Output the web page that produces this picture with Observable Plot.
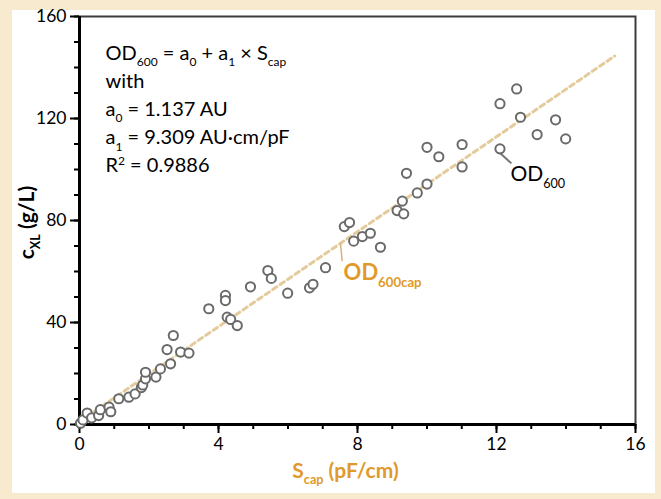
<!DOCTYPE html>
<html><head><meta charset="utf-8">
<script src="https://cdn.jsdelivr.net/npm/d3@7"></script>
<script src="https://cdn.jsdelivr.net/npm/@observablehq/plot@0.6"></script>
<style>
html,body{margin:0;padding:0;background:#f7eace;}
#wrap{position:relative;width:661px;height:499px;background:#f7eace;overflow:hidden;}
#panel{position:absolute;left:12px;top:10px;width:643px;height:483px;background:#fff;}
#chart{position:absolute;left:0;top:0;}
</style></head><body>
<div id="wrap"><div id="panel"></div><div id="chart"></div></div>
<script>
// Measured capacitance signal S_cap (pF/cm) and biomass c_XL (g/L)
const sCap = [0.03,0.1,0.22,0.35,0.55,0.6,0.85,0.9,1.13,1.42,1.6,1.78,1.82,1.9,1.9,2.2,2.33,2.62,2.52,2.7,2.91,3.15,
  3.72,4.2,4.2,4.25,4.35,4.54,4.92,5.42,5.52,5.99,6.62,6.72,7.08,7.62,7.77,7.89,8.14,8.37,8.66,
  9.14,9.33,9.29,9.72,10.0,9.41,10.0,10.34,11.01,11.01,12.1,12.1,12.58,12.69,13.17,13.7,13.99];
const cXL = [0.5,1.8,4.5,2.6,3.5,5.8,6.8,5.0,10.1,10.7,12.0,14.5,15.5,17.9,20.5,18.6,21.8,23.8,29.4,34.9,28.4,28.0,
  45.4,50.6,48.6,42.1,41.2,38.8,54.0,60.4,57.3,51.5,53.6,55.0,61.5,77.6,79.2,71.9,73.7,75.0,69.5,
  83.9,82.6,87.6,90.8,94.3,98.5,108.7,105.0,109.8,101.0,108.1,125.8,131.6,120.5,113.7,119.5,112.0];

// Linear fit OD600cap = a0 + a1 * S_cap
const fitA0 = 1.137, fitA1 = 9.309;
const fitXRange = [0, 15.4];

// Axis ticks
const xMajorTicks = [0,4,8,12,16];
const xMinorTicks = [0,1,2,3,4,5,6,7,8,9,10,11,12,13,14,15,16];
const yMajorTicks = [0,40,80,120,160];
const yMinorTicks = [0,10,20,30,40,50,60,70,80,90,100,110,120,130,140,150,160];

// Texts
const equationLines = ["OD_{600} = a_{0} + a_{1} × S_{cap}", "with", "a_{0} = 1.137 AU", "a_{1} = 9.309 AU·cm/pF", "R^{2} = 0.9886"];
const xLabel = "S_{cap} (pF/cm)";
const yLabel = "c_{XL} (g/L)";
const odLabel = [{x: 12.4, y: 95.3, text: "OD_{600}"}];
const odLink = [{x1: 12.1, y1: 106.5, x2: 12.43, y2: 102.4}];
const capLabel = [{x: 7.6, y: 56.5, text: "OD_{600cap}"}];
const capLink = [{x1: 7.51, y1: 71.0, x2: 7.56, y2: 64.0}];

const points = sCap.map((x, i) => ({x, y: cXL[i]}));
const fitLine = fitXRange.map(x => ({x, y: fitA0 + fitA1 * x}));
const orange = "#e09a2b";

const svg = Plot.plot({
  width: 661, height: 499,
  marginLeft: 79, marginRight: 26, marginTop: 16, marginBottom: 75,
  style: {background: "transparent", fontFamily: "Lato, 'Open Sans', sans-serif", fontSize: "17px", color: "black"},
  x: {domain: [0, 16]},
  y: {domain: [0, 160]},
  marks: [
    Plot.frame({stroke: "#3c3c3c", strokeWidth: 2}),
    Plot.axisX({ticks: xMinorTicks, tickSize: 5, tickFormat: () => "", strokeWidth: 2, label: null}),
    Plot.axisX({ticks: xMajorTicks, tickSize: 9, tickPadding: 4, strokeWidth: 2, fontSize: 17.5, label: null}),
    Plot.axisY({ticks: yMinorTicks, tickSize: 5, tickFormat: () => "", strokeWidth: 2, label: null}),
    Plot.axisY({ticks: yMajorTicks, tickSize: 9, tickPadding: 4, strokeWidth: 2, fontSize: 17.5, label: null}),
    Plot.ruleY([0], {stroke: "black", strokeWidth: 3}),
    Plot.ruleX([0], {stroke: "black", strokeWidth: 3}),
    Plot.line(fitLine, {x: "x", y: "y", stroke: "#e4cb9c", strokeWidth: 3, strokeDasharray: "5,4"}),
    Plot.link(capLink, {x1: "x1", y1: "y1", x2: "x2", y2: "y2", stroke: "#d9b27a", strokeWidth: 1.5}),
    Plot.link(odLink, {x1: "x1", y1: "y1", x2: "x2", y2: "y2", stroke: "#777", strokeWidth: 2}),
    Plot.dot(points, {x: "x", y: "y", r: 4.6, stroke: "#6a6a6a", strokeWidth: 2, fill: "white"}),
    ...equationLines.map((t, i) => Plot.text([t], {text: d => d, frameAnchor: "top-left", dx: 26, dy: 43 + 28.2 * i,
      textAnchor: "start", lineAnchor: "bottom", fontSize: 20, fill: "black"})),
    Plot.text(odLabel, {x: "x", y: "y", text: "text", textAnchor: "start", lineAnchor: "bottom", fontSize: 21, fill: "black"}),
    Plot.text(capLabel, {x: "x", y: "y", text: "text", textAnchor: "start", lineAnchor: "bottom", fontSize: 22, fontWeight: "bold", fill: orange}),
    Plot.text([xLabel], {text: d => d, frameAnchor: "bottom", dx: -12, dy: 53, textAnchor: "middle", lineAnchor: "bottom",
      fontSize: 21, fontWeight: "bold", fill: orange}),
    Plot.text([yLabel], {text: d => d, frameAnchor: "left", dx: -46, dy: 2, rotate: -90, textAnchor: "middle", lineAnchor: "bottom",
      fontSize: 21, fontWeight: "bold", fill: "black"})
  ]
});
document.getElementById("chart").appendChild(svg);

// Turn _{..} and ^{..} markup into real subscript / superscript tspans
function richText(root) {
  d3.select(root).selectAll("text").each(function() {
    const tspans = this.querySelectorAll("tspan");
    const targets = tspans.length ? Array.from(tspans) : [this];
    for (const t of targets) {
      const s = t.textContent;
      if (!/[_^]\{/.test(s)) continue;
      const fs = parseFloat(getComputedStyle(t).fontSize) || 17;
      const re = /([_^])\{([^}]*)\}/g;
      const segs = []; let last = 0, m;
      while ((m = re.exec(s))) {
        if (m.index > last) segs.push({t: s.slice(last, m.index), k: ""});
        segs.push({t: m[2], k: m[1]});
        last = re.lastIndex;
      }
      if (last < s.length) segs.push({t: s.slice(last), k: ""});
      t.textContent = "";
      let cur = 0;
      for (const g of segs) {
        const sp = d3.select(t).append("tspan").text(g.t);
        const off = g.k === "_" ? 0.32 * fs : g.k === "^" ? -0.38 * fs : 0;
        if (off !== cur) sp.attr("dy", off - cur);
        cur = off;
        if (g.k) sp.attr("font-size", (0.6 * fs).toFixed(1));
      }
    }
  });
}
richText(svg);
</script>
</body></html>
